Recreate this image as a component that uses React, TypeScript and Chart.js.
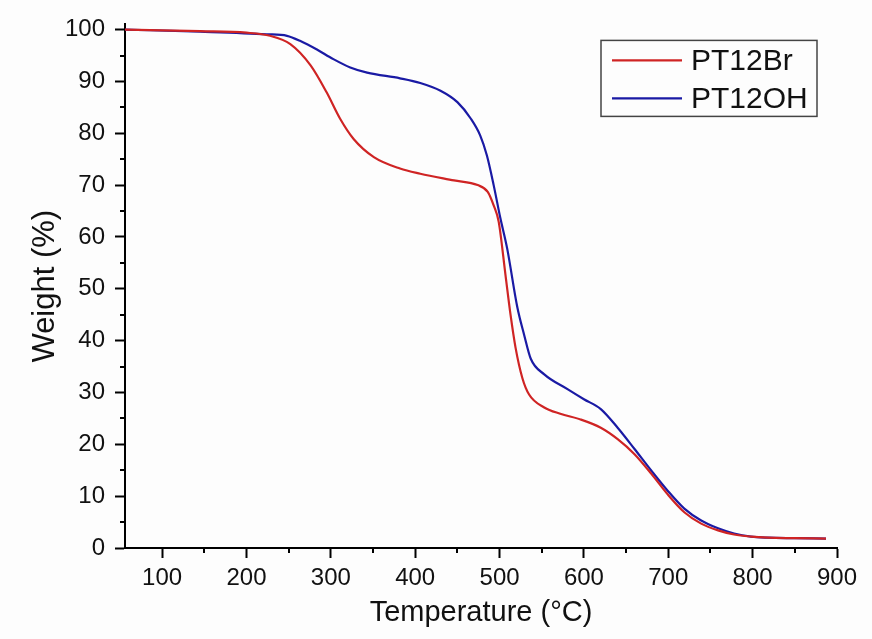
import React, { useEffect, useRef } from "react";
import { Chart, registerables } from "chart.js";

Chart.register(...registerables);

// TGA curves: temperature (°C) vs remaining weight (%)
const brTemps = [56, 145, 200, 228, 252, 276, 295, 311, 327, 351, 382, 406, 446, 474, 486, 493, 499, 507, 513, 519, 527, 535, 553, 572, 596, 620, 640, 660, 680, 699, 719, 739, 759, 778, 798, 818, 850, 887];
const brWeights = [100, 99.7, 99.4, 98.8, 97.2, 93.1, 87.9, 82.8, 78.9, 75.4, 73.2, 72.2, 70.9, 70, 68.7, 66.1, 62.9, 52.7, 45, 38.6, 32.8, 29.6, 27.1, 25.9, 24.8, 23.2, 21, 18.1, 14.3, 10.4, 6.9, 4.7, 3.4, 2.6, 2.2, 2.0, 1.9, 1.8];

const ohTemps = [56, 145, 224, 248, 264, 283, 303, 323, 343, 382, 406, 430, 450, 466, 477, 485, 493, 501, 509, 521, 529, 537, 553, 581, 600, 620, 640, 660, 680, 699, 719, 739, 759, 778, 798, 818, 850, 887];
const ohWeights = [100, 99.6, 99.1, 98.8, 97.8, 96.2, 94.3, 92.7, 91.7, 90.6, 89.7, 88.2, 86, 82.8, 79.6, 75.7, 70, 63.6, 57.8, 46.5, 41.2, 36.5, 33.5, 30.6, 28.7, 26.8, 23.2, 19.1, 14.9, 11.1, 7.6, 5.3, 3.8, 2.8, 2.2, 2.0, 1.9, 1.8];

const seriesNames = ["PT12Br", "PT12OH"];
const seriesColors = ["#cf2424", "#1a1aa4"];

const xTicks = [100, 200, 300, 400, 500, 600, 700, 800, 900];
const xMinorTicks = [150, 250, 350, 450, 550, 650, 750, 850];
const yTicks = [0, 10, 20, 30, 40, 50, 60, 70, 80, 90, 100];
const yMinorTicks = [5, 15, 25, 35, 45, 55, 65, 75, 85, 95];

const FONT = "'Liberation Sans', Arial, sans-serif";

// Short outward ticks between the labelled ones
const minorTicksPlugin = {
  id: "minorTicks",
  afterDraw(chart: any) {
    const ctx = chart.ctx;
    const xs = chart.scales.x;
    const ys = chart.scales.y;
    const area = chart.chartArea;
    ctx.save();
    ctx.strokeStyle = "#000";
    ctx.lineWidth = 2;
    ctx.beginPath();
    xMinorTicks.forEach((v) => {
      const px = Math.round(xs.getPixelForValue(v));
      ctx.moveTo(px, area.bottom);
      ctx.lineTo(px, area.bottom + 5);
    });
    yMinorTicks.forEach((v) => {
      const py = Math.round(ys.getPixelForValue(v));
      ctx.moveTo(area.left, py);
      ctx.lineTo(area.left - 5, py);
    });
    ctx.stroke();
    ctx.restore();
  },
};

// Boxed legend in the upper right corner of the plot
const boxLegendPlugin = {
  id: "boxLegend",
  afterDraw(chart: any) {
    const ctx = chart.ctx;
    const area = chart.chartArea;
    const right = area.right - 20;
    const left = right - 216;
    const top = area.top + 16;
    const rowGap = 38;
    ctx.save();
    ctx.strokeStyle = "#444";
    ctx.lineWidth = 1.5;
    ctx.strokeRect(left, top, right - left, 76);
    ctx.font = `30px ${FONT}`;
    ctx.textBaseline = "middle";
    ctx.textAlign = "left";
    chart.data.datasets.forEach((ds: any, i: number) => {
      const y = top + 20 + i * rowGap;
      ctx.strokeStyle = ds.borderColor;
      ctx.lineWidth = 2.2;
      ctx.beginPath();
      ctx.moveTo(left + 11, y);
      ctx.lineTo(left + 81, y);
      ctx.stroke();
      ctx.fillStyle = "#111";
      ctx.fillText(ds.label, left + 90, y + 1);
    });
    ctx.restore();
  },
};

export default function App() {
  const canvasRef = useRef<HTMLCanvasElement | null>(null);

  useEffect(() => {
    if (!canvasRef.current) return;
    const chart = new Chart(canvasRef.current, {
      type: "line",
      data: {
        datasets: [
          {
            label: seriesNames[0],
            data: brTemps.map((t, i) => ({ x: t, y: brWeights[i] })),
            borderColor: seriesColors[0],
            borderWidth: 2.2,
            pointRadius: 0,
            cubicInterpolationMode: "monotone",
            fill: false,
          },
          {
            label: seriesNames[1],
            data: ohTemps.map((t, i) => ({ x: t, y: ohWeights[i] })),
            borderColor: seriesColors[1],
            borderWidth: 2.2,
            pointRadius: 0,
            cubicInterpolationMode: "monotone",
            fill: false,
          },
        ],
      },
      options: {
        animation: false,
        responsive: false,
        maintainAspectRatio: false,
        layout: { padding: { top: 22, right: 35, left: 0, bottom: 0 } },
        plugins: {
          legend: { display: false },
          tooltip: { enabled: false },
        },
        scales: {
          x: {
            type: "linear",
            min: 56,
            max: 900,
            afterBuildTicks: (scale: any) => {
              scale.ticks = xTicks.map((v) => ({ value: v }));
            },
            afterFit: (scale: any) => {
              scale.height = 91;
            },
            grid: {
              drawOnChartArea: false,
              drawTicks: true,
              tickLength: 10,
              tickWidth: 2,
              tickColor: "#000",
            },
            border: { display: true, color: "#000", width: 2 },
            ticks: {
              font: { family: FONT, size: 24 },
              color: "#111",
              padding: 6,
              maxRotation: 0,
              autoSkip: false,
            },
            title: {
              display: true,
              text: "Temperature (°C)",
              font: { family: FONT, size: 29 },
              color: "#111",
              padding: { top: 0, bottom: 9 },
            },
          },
          y: {
            type: "linear",
            min: 0,
            max: 101,
            afterBuildTicks: (scale: any) => {
              scale.ticks = yTicks.map((v) => ({ value: v }));
            },
            afterFit: (scale: any) => {
              scale.width = 125;
            },
            grid: {
              drawOnChartArea: false,
              drawTicks: true,
              tickLength: 10,
              tickWidth: 2,
              tickColor: "#000",
            },
            border: { display: true, color: "#000", width: 2 },
            ticks: {
              font: { family: FONT, size: 24 },
              color: "#111",
              padding: 10,
              autoSkip: false,
            },
            title: {
              display: true,
              text: "Weight (%)",
              font: { family: FONT, size: 31 },
              color: "#111",
              padding: { top: 27, bottom: 0 },
            },
          },
        },
      },
      plugins: [minorTicksPlugin, boxLegendPlugin],
    } as any);
    return () => chart.destroy();
  }, []);

  return (
    <div style={{ position: "absolute", left: 0, top: 0, width: 872, height: 639, background: "#fdfdfd" }}>
      <canvas ref={canvasRef} width={872} height={639} style={{ display: "block" }} />
    </div>
  );
}
